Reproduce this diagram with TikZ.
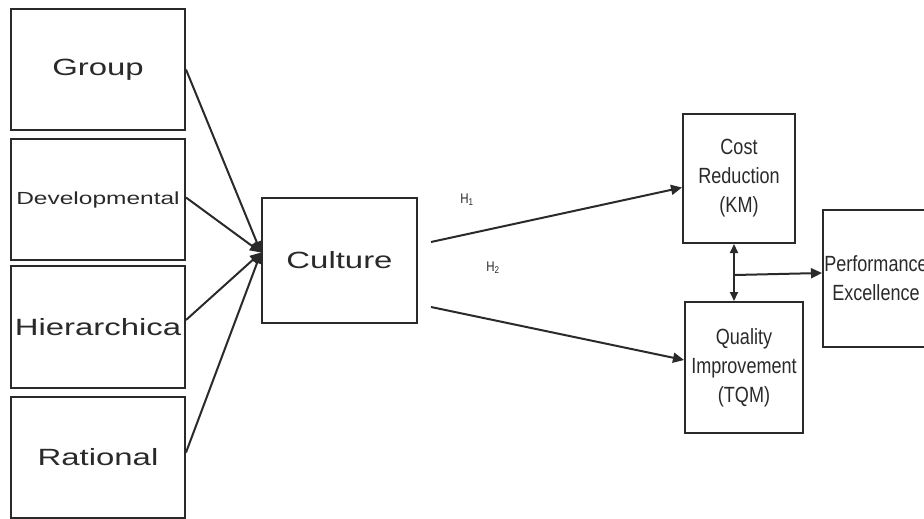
\documentclass[tikz,border=0pt]{standalone}
\usepackage{fontspec}
\setmainfont{Liberation Sans}
\newfontfamily\widefont[FakeStretch=1.4]{Liberation Sans}
\newfontfamily\narrowfont[FakeStretch=0.82]{Liberation Sans}
\usetikzlibrary{arrows.meta}
\definecolor{ink}{HTML}{2A2A2A}
\begin{document}
\begin{tikzpicture}[x=1pt,y=-1pt,
  box/.style={draw=ink, line width=2pt, inner sep=0pt, text=ink, align=center},
  bigtxt/.style={font=\widefont\fontsize{23.5}{28}\selectfont},
  smalltxt/.style={font=\narrowfont\fontsize{22}{29}\selectfont},
  link/.style={draw=ink, line width=2pt},
  tip/.style={-{Triangle[length=11pt,width=10pt]}},
  lbl/.style={text=ink, inner sep=0pt, font=\narrowfont\fontsize{14}{16}\selectfont}]
\useasboundingbox (0,0) rectangle (924,519);
\clip (0,0) rectangle (924,519);
\fill[white] (0,0) rectangle (924,519);
% left boxes
\node[box, bigtxt, minimum width=174pt, minimum height=121pt] (group) at (98,69.5) {Group};
\node[box, minimum width=174pt, minimum height=121pt, font=\widefont\fontsize{17.5}{20}\selectfont] (dev) at (98,199.5) {Developmental};
\node[box, bigtxt, minimum width=174pt, minimum height=122pt] (hier) at (98,327) {Hierarchica};
\node[box, bigtxt, minimum width=174pt, minimum height=121pt] (rat) at (98,457.5) {Rational};
% culture
\node[box, bigtxt, minimum width=155pt, minimum height=125pt] (cult) at (339.5,260.5) {Culture};
% right boxes
\node[box, smalltxt, minimum width=112pt, minimum height=129pt] (cost) at (739,178.5) {Cost\\Reduction\\(KM)};
\node[box, smalltxt, minimum width=118pt, minimum height=131pt] (qual) at (744,367.5) {Quality\\Improvement\\(TQM)};
\node[box, smalltxt, minimum width=106pt, minimum height=137pt] (perf) at (876,278.5) {Performance\\Excellence};
% convergence
\coordinate (conv) at ([yshift=8pt]cult.west);
\draw[link, tip] (group.east) -- (conv);
\draw[link, tip] ([yshift=2pt]dev.east) -- (conv);
\draw[link, tip] ([yshift=7pt]hier.east) -- (conv);
\draw[link, tip] ([yshift=5pt]rat.east) -- (conv);
% hypotheses
\coordinate (h1s) at ([xshift=13pt,yshift=18.5pt]cult.east);
\coordinate (h2s) at ([xshift=13pt,yshift=-46.5pt]cult.east);
\draw[link, tip] (h1s) -- ([yshift=-9pt]cost.west);
\draw[link, tip] (h2s) -- ([yshift=7.5pt]qual.west);
\node[lbl] (h1) at (467,200) {H\textsubscript{1}};
\node[lbl] (h2) at (493,268) {H\textsubscript{2}};
% between cost and quality
\draw[link, {Triangle[length=9pt,width=8pt]}-{Triangle[length=9pt,width=8pt]}] ([xshift=-5pt]cost.south) -- ([xshift=-10pt]qual.north);
\coordinate (mid) at (735,275);
\draw[link, tip] (mid) -- ([yshift=5.5pt]perf.west);
\end{tikzpicture}
\end{document}
